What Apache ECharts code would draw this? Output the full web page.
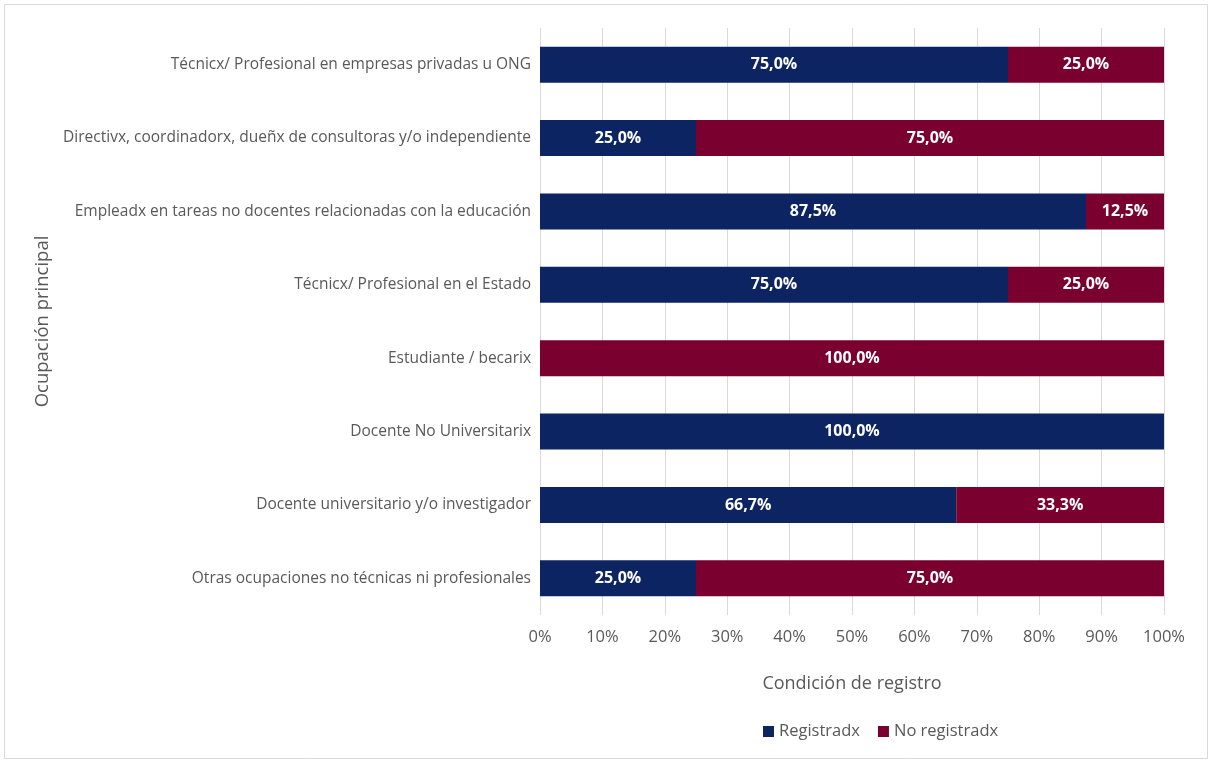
<!DOCTYPE html>
<html>
<head>
<meta charset="utf-8">
<script src="https://cdn.jsdelivr.net/npm/echarts@6/dist/echarts.min.js"></script>
<style>
html,body{margin:0;padding:0;background:#fff;}
#chart{width:1212px;height:763px;}
</style>
</head>
<body>
<div id="chart"></div>
<script>
const categories = [
  "Técnicx/ Profesional en empresas privadas u ONG",
  "Directivx, coordinadorx, dueñx de consultoras y/o independiente",
  "Empleadx en tareas no docentes relacionadas con la educación",
  "Técnicx/ Profesional en el Estado",
  "Estudiante / becarix",
  "Docente No Universitarix",
  "Docente universitario y/o investigador",
  "Otras ocupaciones no técnicas ni profesionales"
];
const registrados = [75.0, 25.0, 87.5, 75.0, 0, 100.0, 66.7, 25.0];
const noRegistrados = [25.0, 75.0, 12.5, 25.0, 100.0, 0, 33.3, 75.0];
const seriesNames = ["Registradx", "No registradx"];

const FONT = "Open Sans";
const GREY = "#595959";
const fmt = p => p.value > 0 ? p.value.toFixed(1).replace('.', ',') + '%' : '';

const chart = echarts.init(document.getElementById('chart'), null, {renderer: 'canvas'});
chart.setOption({
  animation: false,
  textStyle: {fontFamily: FONT},
  graphic: [{
    type: 'rect', left: 4, top: 4, z: -10,
    shape: {width: 1203, height: 754},
    style: {fill: '#fff', stroke: '#d9d9d9', lineWidth: 1}
  }],
  grid: {left: 540, right: 48, top: 28, bottom: 148},
  legend: {
    data: seriesNames, left: 758, top: 718,
    itemWidth: 11, itemHeight: 11, itemGap: 18, icon: 'rect',
    textStyle: {color: GREY, fontSize: 16.5, fontFamily: FONT}
  },
  xAxis: {
    type: 'value', min: 0, max: 100, interval: 10,
    name: 'Condición de registro', nameLocation: 'middle', nameGap: 60,
    nameTextStyle: {color: GREY, fontSize: 18, fontFamily: FONT},
    axisLine: {show: false}, axisTick: {show: false},
    axisLabel: {formatter: '{value}%', color: GREY, fontSize: 16.5, margin: 14, fontFamily: FONT},
    splitLine: {show: true, lineStyle: {color: '#d9d9d9', width: 1}}
  },
  yAxis: {
    type: 'category', data: categories, inverse: true,
    name: 'Ocupación principal', nameLocation: 'middle', nameGap: 485, nameRotate: 90,
    nameTextStyle: {color: GREY, fontSize: 18.5, fontFamily: FONT},
    axisLine: {show: false}, axisTick: {show: false},
    axisLabel: {color: GREY, fontSize: 15.5, margin: 9, fontFamily: FONT},
    splitLine: {show: false}
  },
  series: [
    {
      name: seriesNames[0], type: 'bar', stack: 'total', barWidth: 36,
      data: registrados,
      itemStyle: {color: '#0c2461'},
      label: {show: true, position: 'inside', color: '#fff', fontWeight: 'bold', fontSize: 16, fontFamily: FONT, formatter: fmt}
    },
    {
      name: seriesNames[1], type: 'bar', stack: 'total', barWidth: 36,
      data: noRegistrados,
      itemStyle: {color: '#7a0030'},
      label: {show: true, position: 'inside', color: '#fff', fontWeight: 'bold', fontSize: 16, fontFamily: FONT, formatter: fmt}
    }
  ]
});
</script>
</body>
</html>
